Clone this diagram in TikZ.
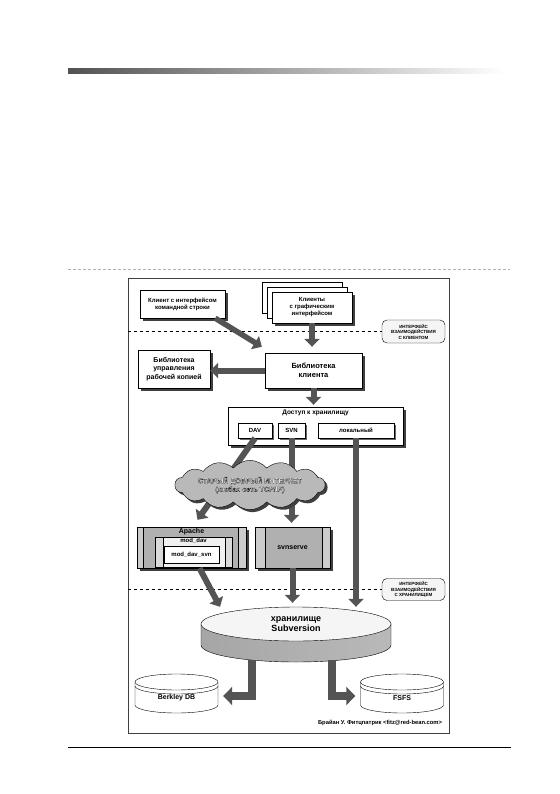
\documentclass[tikz,border=0pt]{standalone}
\usepackage{fontspec}
\setmainfont{Liberation Sans}
\usepackage{tikz}
\usetikzlibrary{arrows.meta,positioning,shapes.geometric,shapes.symbols,shadows}

\newcommand{\hollowtext}[1]{{\color{white}\special{pdf:literal direct 2 Tr 0.2 w 0 G}#1\special{pdf:literal direct 0 Tr}}}

\begin{document}
\begin{tikzpicture}[x=1pt, y=-1pt,
    box/.style={rectangle, draw, fill=white, align=center, inner sep=1pt, font=\fontsize{6}{7}\selectfont\bfseries},
    castshadow/.style={drop shadow={shadow xshift=2.5pt, shadow yshift=-2.5pt, fill=black!75, opacity=1}},
    shadowbox/.style={box, castshadow},
    colbox/.style n args={3}{box, fill=gray!40, path picture={\filldraw[fill=#3] ([xshift=#1]path picture bounding box.north west) rectangle ([xshift=-#2]path picture bounding box.south east);}},
    tag/.style={draw, fill=gray!8, rounded corners=5pt, align=center, inner sep=1pt, font=\fontsize{4.5}{5.5}\selectfont\bfseries},
    txt/.style={inner sep=1pt, font=\fontsize{6}{7}\selectfont\bfseries},
    arrow/.style={draw=black!67, line width=6pt, -{Triangle[width=15pt,length=8pt]}},
    bound/.style={dashed, thin},
    db/.style={draw, fill=white}
  ]
  \fill[white] (0,0) rectangle (559,794);
  \useasboundingbox (0,0) rectangle (559,794);

  % page decoration
  \shade[left color=black!68, right color=white] (68,69) rectangle (505,74);
  \draw[gray!60, dash pattern=on 3pt off 2pt] (68,269) -- (510,269);
  \draw[line width=0.8pt] (68,747) -- (511,747);

  \node[draw=black!75, line width=1pt, minimum width=321pt, minimum height=455pt, inner sep=0pt] (frame) at (288.5,505.5) {};

  % clients
  \node[shadowbox, minimum width=85pt, minimum height=28pt] (cli) at (182.5,304) {Клиент с интерфейсом\\командной строки};
  \node[box, minimum width=80pt, minimum height=31pt] (gui3) at (302,297.5) {};
  \node[box, minimum width=80pt, minimum height=31pt] (gui2) at (307,302.5) {};
  \node[shadowbox, minimum width=80pt, minimum height=31pt] (gui) at (312,307.5) {Клиенты\\с графическим\\интерфейсом};

  \node[shadowbox, minimum width=97pt, minimum height=35pt, font=\fontsize{7.5}{9}\selectfont\bfseries] (clib) at (313.5,370.5) {Библиотека\\клиента};
  \node[shadowbox, minimum width=72pt, minimum height=38pt, font=\fontsize{7}{8.5}\selectfont\bfseries] (wclib) at (174,369) {Библиотека\\управления\\рабочей копией};

  % repository access
  \node[shadowbox, minimum width=175pt, minimum height=38pt] (access) at (315.5,426) {};
  \node[txt, font=\fontsize{6.5}{8}\selectfont\bfseries, below=2pt of access.north] (accessname) {Доступ к хранилищу};
  \node[box, minimum width=34pt, minimum height=15pt, drop shadow={shadow xshift=1.5pt, shadow yshift=-1.5pt, fill=black!60, opacity=1}] (dav) at (255,430.5) {DAV};
  \node[box, minimum width=27pt, minimum height=15pt, drop shadow={shadow xshift=1.5pt, shadow yshift=-1.5pt, fill=black!60, opacity=1}] (svn) at (291.5,430.5) {SVN};
  \node[box, minimum width=76pt, minimum height=15pt, drop shadow={shadow xshift=1.5pt, shadow yshift=-1.5pt, fill=black!60, opacity=1}] (local) at (356,430.5) {локальный};

  % servers
  \node[colbox={6pt}{8pt}{gray!62}, castshadow, minimum width=109pt, minimum height=41pt] (apache) at (191.5,547.5) {};
  \node[txt, font=\fontsize{7}{8}\selectfont\bfseries, below=0pt of apache.north] (apachename) {Apache};
  \node[colbox={8pt}{7pt}{gray!12}, fill=gray!30, minimum width=77pt, minimum height=30pt] (moddav) at (193.5,552) {};
  \node[txt, below=0pt of moddav.north] (moddavname) {mod\_dav};
  \node[box, minimum width=55pt, minimum height=17pt] (moddavsvn) at (191.5,554.5) {mod\_dav\_svn};
  \node[colbox={10pt}{8pt}{gray!62}, castshadow, minimum width=75pt, minimum height=41pt, font=\fontsize{7}{8}\selectfont\bfseries] (svnserve) at (292.5,547.5) {svnserve};

  % interface tags
  \node[tag, minimum width=63pt, minimum height=23pt] (clienttag) at (413.5,331.5) {ИНТЕРФЕЙС\\ВЗАИМОДЕЙСТВИЯ\\С КЛИЕНТОМ};
  \node[tag, minimum width=63pt, minimum height=22pt] (repotag) at (413.5,589.5) {ИНТЕРФЕЙС\\ВЗАИМОДЕЙСТВИЯ\\С ХРАНИЛИЩЕМ};
  \draw[bound] (frame.west |- clienttag.west) -- (clienttag.west);
  \draw[bound] (frame.west |- repotag.west) -- (repotag.west);

  % back ends
  \foreach \cx/\dbname/\dbtext in {176.5/bdb/{Berkley DB}, 402/fsfs/FSFS} {
    \draw[db] (\cx-41.5,682) -- (\cx-41.5,705) arc[start angle=180, end angle=360, x radius=41.5pt, y radius=8pt] -- (\cx+41.5,682) -- cycle;
    \draw[db] (\cx,682) ellipse[x radius=41.5pt, y radius=8pt];
    \draw (\cx-41.5,686) arc[start angle=180, end angle=360, x radius=41.5pt, y radius=8pt];
    \node[txt, font=\fontsize{7}{8}\selectfont\bfseries, minimum width=83pt, minimum height=16pt] (\dbname) at (\cx,698) {\dbtext};
  }

  % repository
  \draw[left color=gray!70, middle color=white, right color=gray!55] (201,624) -- (201,645) arc[start angle=180, end angle=360, x radius=95pt, y radius=17pt] -- (391,624) -- cycle;
  \coordinate (repobot) at (296,662);
  \node[ellipse, draw, fill=gray!8, minimum width=190pt, minimum height=34pt, inner sep=0pt, align=center, font=\fontsize{9}{10.5}\selectfont\bfseries] (repo) at (296,624) {хранилище\\Subversion};

  % connectors
  \draw[arrow, line width=5.5pt] ([xshift=-10pt]cli.south east) -- ([shift={(-3pt,6pt)}]clib.north west);
  \draw[arrow, shorten >=6pt] (gui.south) -- (gui.south |- clib.north);
  \draw[arrow] (clib.west) -- (clib.west -| wclib.east);
  \draw[arrow, shorten >=2pt] (clib.south) -- (clib.south |- access.north);
  \draw[arrow] (dav.south) -- ([shift={(6pt,7pt)}]apache.north);
  \draw[arrow, shorten >=4pt] (svn.south) -- (svn.south |- svnserve.north);
  \draw[arrow] (local.south) -- (local.south |- repo.north);
  \draw[arrow] ([xshift=8pt]apache.south) -- ([xshift=-76pt]repo.north);
  \draw[arrow, shorten >=4pt] (svnserve.south) -- (svnserve.south |- repo.north);
  \draw[arrow, line width=8pt, shorten >=5pt, -{Triangle[width=18pt,length=9pt]}] ([xshift=-44pt,yshift=2pt]repobot) |- ([yshift=2pt]bdb.east);
  \draw[arrow, line width=8pt, shorten >=5pt, -{Triangle[width=18pt,length=9pt]}] ([xshift=36pt,yshift=2pt]repobot) |- ([yshift=2pt]fsfs.west);

  % network
  \node[cloud, cloud puffs=14, cloud puff arc=100, aspect=4.2, draw, fill=gray!55, castshadow, minimum width=150pt, minimum height=34pt, inner sep=0pt, align=center, font=\fontsize{7}{8.5}\selectfont\bfseries] (net) at (250,485) {\hollowtext{СТАРЫЙ ДОБРЫЙ ИНТЕРНЕТ}\\\hollowtext{(любая сеть TCP/IP)}};

  \node[font=\fontsize{5.8}{7}\selectfont\bfseries, anchor=base east] (author) at ([shift={(-4pt,9pt)}]frame.south east) {Брайан У. Фитцпатрик <fitz@red-bean.com>};
\end{tikzpicture}
\end{document}
